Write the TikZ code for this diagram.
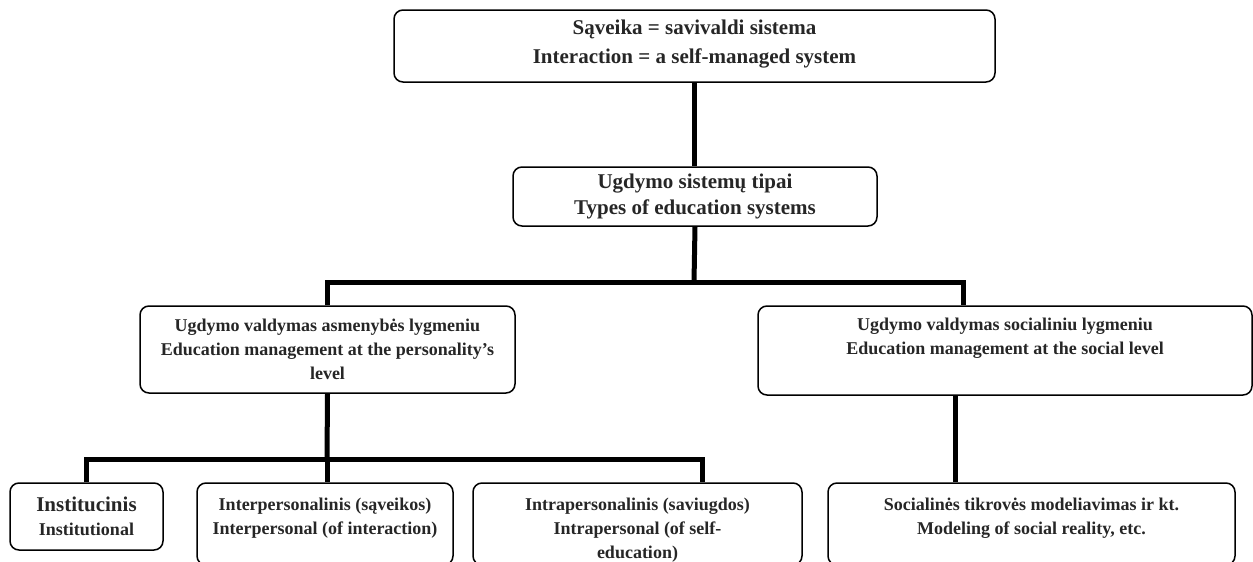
\documentclass[tikz,border=0pt]{standalone}
\usepackage{fontspec}
\setmainfont{Liberation Serif}
\usetikzlibrary{positioning}
\tikzset{
  box/.style = {draw=black, line width=1.5pt, rounded corners=9pt, inner sep=0pt},
  txt/.style = {align=center, inner sep=0pt, text=black!85, font=\bfseries\fontsize{18}{24}\selectfont},
  bigtxt/.style = {txt, font=\bfseries\fontsize{21}{26}\selectfont},
  link/.style = {line width=5pt, black}
}
\begin{document}
\begin{tikzpicture}[x=1pt, y=-1pt]
\useasboundingbox (0,0) rectangle (1253,562);
\clip (0,0) rectangle (1253,562);
\node [box, minimum width=601pt, minimum height=72pt] (sys) at (694.5,46) {};
\node [bigtxt, font=\bfseries\fontsize{21}{29}\selectfont, below=10pt of sys.north] (sysT) {Sąveika = savivaldi sistema\\Interaction = a self-managed system};
\node [box, minimum width=364pt, minimum height=59pt] (types) at (695,196.5) {};
\node [bigtxt] (typesT) at (types.center) {Ugdymo sistemų tipai\\Types of education systems};
\node [box, minimum width=375pt, minimum height=87pt] (pers) at (327.5,349.5) {};
\node [txt] (persT) at (pers.center) {Ugdymo valdymas asmenybės lygmeniu\\Education management at the personality’s\\level};
\node [box, minimum width=494pt, minimum height=89pt] (soc) at (1005,350.5) {};
\node [txt, below=13pt of soc.north] (socT) {Ugdymo valdymas socialiniu lygmeniu\\Education management at the social level};
\node [box, minimum width=153pt, minimum height=67pt] (inst) at (86.5,516.5) {};
\node [txt] (instT) at (inst.center) {{\fontsize{21}{24}\selectfont Institucinis}\\Institutional};
\node [box, minimum width=256pt, minimum height=82pt] (inter) at (325,524) {};
\node [txt, below=16pt of inter.north] (interT) {Interpersonalinis (sąveikos)\\Interpersonal (of interaction)};
\node [box, minimum width=329pt, minimum height=82pt] (intra) at (637.5,524) {};
\node [txt, below=16pt of intra.north] (intraT) {Intrapersonalinis (saviugdos)\\Intrapersonal (of self-\\education)};
\node [box, minimum width=407pt, minimum height=82pt] (model) at (1031.5,524) {};
\node [txt, below=16pt of model.north] (modelT) {Socialinės tikrovės modeliavimas ir kt.\\Modeling of social reality, etc.};
\coordinate (bar1) at (694,282);
\coordinate (bar2) at (327,459);
\coordinate (socIn) at ([xshift=-42pt]soc.north);
\coordinate (socOut) at ([xshift=-50pt]soc.south);
\coordinate (intraIn) at ([xshift=64.5pt]intra.north);
\draw [link] (sys.south) -- (sys.south |- types.north);
\draw [link] (types.south) -- (bar1);
\draw [link] (pers.north) |- (bar1) -| (socIn);
\draw [link] (pers.south) -- (bar2);
\draw [link] (inst.north) |- (bar2) -| (intraIn);
\draw [link] (bar2) -- (bar2 |- inter.north);
\draw [link] (socOut) -- (socOut |- model.north);
\end{tikzpicture}
\end{document}
